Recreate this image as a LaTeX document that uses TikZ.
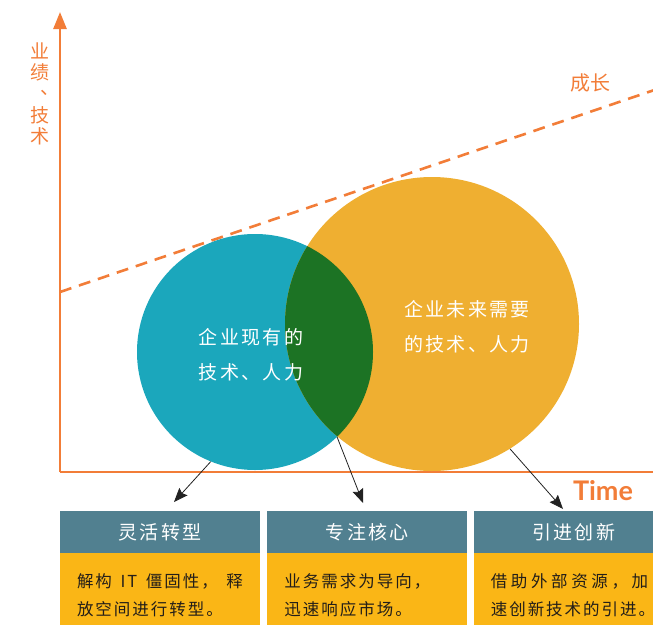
\documentclass[tikz,border=0pt]{standalone}
\usepackage{fontspec}
\newfontfamily\cjk{Noto Sans CJK SC}
\newfontfamily\cjkwide[LetterSpace=12]{Noto Sans CJK SC}
\newfontfamily\cjkjust[LetterSpace=22]{Noto Sans CJK SC}
\newfontfamily\latinbold{Lato}
\usetikzlibrary{positioning,arrows.meta}
\definecolor{axisorange}{RGB}{242,125,56}
\definecolor{tealc}{RGB}{27,167,188}
\definecolor{goldc}{RGB}{239,175,49}
\definecolor{greenc}{RGB}{28,115,36}
\definecolor{headblue}{RGB}{81,128,144}
\definecolor{bodygold}{RGB}{250,182,22}
\definecolor{textdark}{RGB}{35,30,25}
\definecolor{arrowgray}{RGB}{34,34,34}

\begin{document}
\begin{tikzpicture}[x=1pt,y=-1pt,
  headbox/.style={fill=headblue, text=white, minimum width=200pt, minimum height=42pt,
    inner sep=0pt, font=\cjkwide\fontsize{19}{21}\selectfont},
  bodybox/.style={fill=bodygold, text=textdark, minimum width=200pt, minimum height=84pt,
    inner xsep=17pt, inner ysep=0pt, text width=166pt, align=left,
    font=\cjkwide\fontsize{16.5}{28}\selectfont},
  circtext/.style={text=white, align=left, font=\cjkwide\fontsize{19}{35}\selectfont},
  pointer/.style={draw=arrowgray, line width=0.8pt, -{Stealth[length=14pt,width=11pt,inset=2pt]}}]
\useasboundingbox (0,0) rectangle (653,624);
\clip (0,0) rectangle (653,624);

% axes
\coordinate (origin) at (60,472);
\coordinate (ytop) at (60,12);
\coordinate (xend) at (660,472);
\draw[axisorange, line width=2.6pt, -{Triangle[length=17pt,width=13pt]}] (origin) -- (ytop);
\draw[axisorange, line width=2.8pt] (origin) -- (xend);
\node[text=axisorange, font=\cjk\fontsize{19}{21.3}\selectfont, align=center] (ylabel) at (40,94)
  {业\\绩\\\raisebox{7pt}[0pt][0pt]{\makebox[0pt][l]{、}}\\技\\术};
\node[text=axisorange, font=\latinbold\bfseries\fontsize{27}{30}\selectfont] (timelabel) at (603,491) {Time};

% growth line
\coordinate (gstart) at (60,292);
\coordinate (gend) at (672,84);
\draw[axisorange, line width=2.6pt, dash pattern=on 12pt off 8pt] (gstart) -- (gend);
\node[text=axisorange, font=\cjk\fontsize{20}{24}\selectfont] (growlabel) at (590,83) {成长};

% circles
\node[circle, fill=tealc, minimum size=236pt, inner sep=0pt] (cur) at (255,352) {};
\node[circle, fill=goldc, minimum size=294pt, inner sep=0pt] (fut) at (432,324) {};
\begin{scope}
  \clip (cur.center) circle[radius=118];
  \fill[greenc] (fut.center) circle[radius=147];
\end{scope}
\node[circtext] (curtext) at (251,355) {企业现有的\\技术、人力};
\node[circtext] (futtext) at (467,327) {企业未来需要\\的技术、人力};

% boxes
\node[headbox] (hdA) at (160,532) {灵活转型};
\node[headbox, right=7pt of hdA] (hdB) {专注核心};
\node[headbox, right=6pt of hdB] (hdC) {引进创新};
\node[bodybox, below=0pt of hdA] (bdA) {\makebox[166pt][s]{解构\hfill IT\hfill 僵固性，\hfill 释}\\放空间进行转型。};
\node[bodybox, below=0pt of hdB] (bdB) {业务需求为导向，\\迅速响应市场。};
\node[bodybox, below=0pt of hdC] (bdC) {{\cjkjust 借助外部资源，加}\\速创新技术的引进。};

% pointers
\coordinate (tipA) at (174,502);
\coordinate (tipB) at (363,503);
\coordinate (tipC) at (563,509);
\draw[pointer] (cur.248) -- (tipA);
\draw[pointer] (cur.-46) -- (tipB);
\draw[pointer] (fut.-58) -- (tipC);
\end{tikzpicture}
\end{document}
